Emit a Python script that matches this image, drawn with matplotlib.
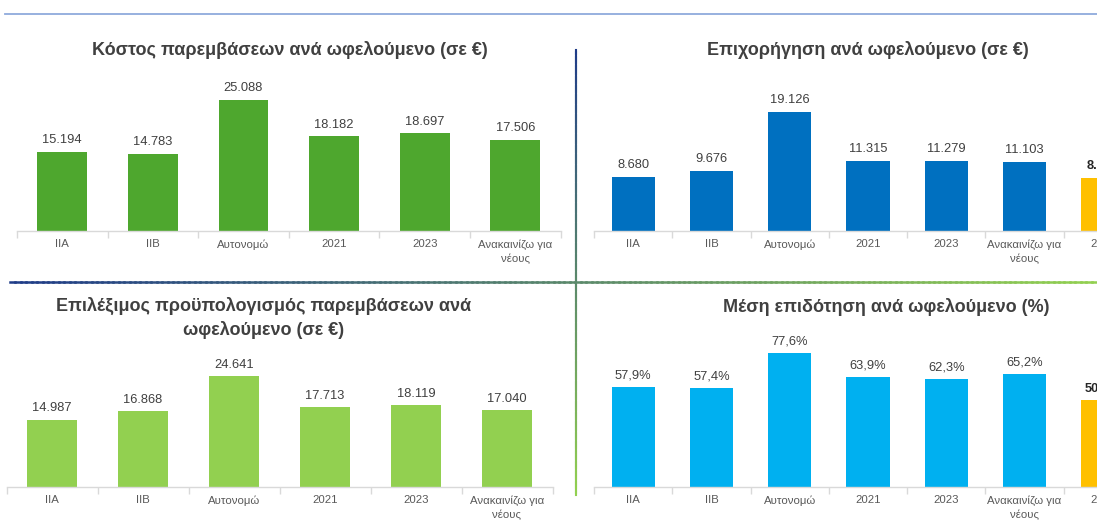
import matplotlib
matplotlib.use("Agg")
import matplotlib.pyplot as plt
import numpy as np
from matplotlib.collections import LineCollection
from matplotlib.colors import LinearSegmentedColormap

plt.rcParams['font.family'] = ['Liberation Sans', 'DejaVu Sans']

W, H = 1097, 522

categories_left = ["IIA", "IIB", "Αυτονομώ", "2021", "2023", "Ανακαινίζω για\nνέους"]
categories_right = ["IIA", "IIB", "Αυτονομώ", "2021", "2023", "Ανακαινίζω για\nνέους", "2024"]

cost_values = [15194, 14783, 25088, 18182, 18697, 17506]
grant_values = [8680, 9676, 19126, 11315, 11279, 11103, 8532]
budget_values = [14987, 16868, 24641, 17713, 18119, 17040]
subsidy_values = [57.9, 57.4, 77.6, 63.9, 62.3, 65.2, 50.1]

title_cost = "Κόστος παρεμβάσεων ανά ωφελούμενο (σε €)"
title_grant = "Επιχορήγηση ανά ωφελούμενο (σε €)"
title_budget = "Επιλέξιμος προϋπολογισμός παρεμβάσεων ανά\nωφελούμενο (σε €)"
title_subsidy = "Μέση επιδότηση ανά ωφελούμενο (%)"

GREEN = "#4EA72E"
LGREEN = "#92D050"
BLUE = "#0070C0"
CYAN = "#00B0F0"
YELLOW = "#FFC000"

fig = plt.figure(figsize=(W / 100, H / 100), dpi=100)


def fmt_thousands(v):
    return f"{v:,}".replace(",", ".")


def fmt_pct(v):
    return f"{v:.1f}%".replace(".", ",")


def make_axes(left_px, width_px, base_px, height_px):
    return fig.add_axes([left_px / W, 1 - base_px / H, width_px / W, height_px / H])


def draw_panel(ax, cats, vals, colors, ymax, fmt, bold_last=False):
    x = np.arange(len(cats))
    ax.bar(x, vals, width=0.55, color=colors)
    ax.set_xlim(-0.5, len(cats) - 0.5)
    ax.set_ylim(0, ymax)
    for s in ["top", "right", "left"]:
        ax.spines[s].set_visible(False)
    ax.spines["bottom"].set_color("#D9D9D9")
    ax.spines["bottom"].set_linewidth(1.0)
    ax.set_yticks([])
    ax.set_xticks(x)
    ax.set_xticklabels(cats, fontsize=8.2, color="#595959", linespacing=1.45)
    ax.tick_params(axis="x", which="major", length=0, pad=6)
    ax.set_xticks(np.arange(-0.5, len(cats)), minor=True)
    ax.tick_params(axis="x", which="minor", length=5, color="#D9D9D9", width=1.0)
    for i, v in enumerate(vals):
        last = bold_last and i == len(vals) - 1
        ax.annotate(fmt(v), (x[i], v), xytext=(0, 4), textcoords="offset points",
                    ha="center", va="bottom", fontsize=9.3,
                    color="#262626" if last else "#404040",
                    fontweight="bold" if last else "normal")
    ax.patch.set_alpha(0)


# Top-left
ax1 = make_axes(17, 543.6, 231, 156.6)
draw_panel(ax1, categories_left, cost_values, [GREEN] * 6, 30000, fmt_thousands)

# Top-right
ax2 = make_axes(594, 548, 231, 155.5)
draw_panel(ax2, categories_right, grant_values, [BLUE] * 6 + [YELLOW], 25000, fmt_thousands, bold_last=True)

# Bottom-left
ax3 = make_axes(6.5, 546, 487, 135)
draw_panel(ax3, categories_left, budget_values, [LGREEN] * 6, 30000, fmt_thousands)

# Bottom-right
ax4 = make_axes(594, 548, 487, 155.5)
draw_panel(ax4, categories_right, subsidy_values, [CYAN] * 6 + [YELLOW], 90, fmt_pct, bold_last=True)

title_kw = dict(fontsize=13, fontweight="bold", color="#404040", ha="center", va="center")
fig.text(290 / W, 1 - 50 / H, title_cost, **title_kw)
fig.text(868 / W, 1 - 50 / H, title_grant, **title_kw)
fig.text(264 / W, 1 - 318 / H, title_budget, linespacing=1.45, **title_kw)
fig.text(886 / W, 1 - 307 / H, title_subsidy, **title_kw)

# Decorative lines
fig.add_artist(plt.Line2D([5 / W, 1.0], [1 - 14 / H, 1 - 14 / H], color="#8FAADC", lw=1.3,
                          transform=fig.transFigure))

cmap = LinearSegmentedColormap.from_list("ng", ["#1F3C88", "#92D050"])
n = 200
ys = np.linspace(1 - 50 / H, 1 - 495 / H, n + 1)
segs = [[(576 / W, ys[i]), (576 / W, ys[i + 1])] for i in range(n)]
lc = LineCollection(segs, colors=cmap(np.linspace(0, 1, n)), linewidths=1.5,
                    transform=fig.transFigure, capstyle="projecting")
fig.add_artist(lc)
xs = np.linspace(10 / W, 1.0, n + 1)
segs2 = [[(xs[i], 1 - 282 / H), (xs[i + 1], 1 - 282 / H)] for i in range(n)]
lc2 = LineCollection(segs2, colors=cmap(np.linspace(0, 1, n)), linewidths=1.8,
                     transform=fig.transFigure, capstyle="projecting")
fig.add_artist(lc2)

fig.savefig("out.png", dpi=100)
